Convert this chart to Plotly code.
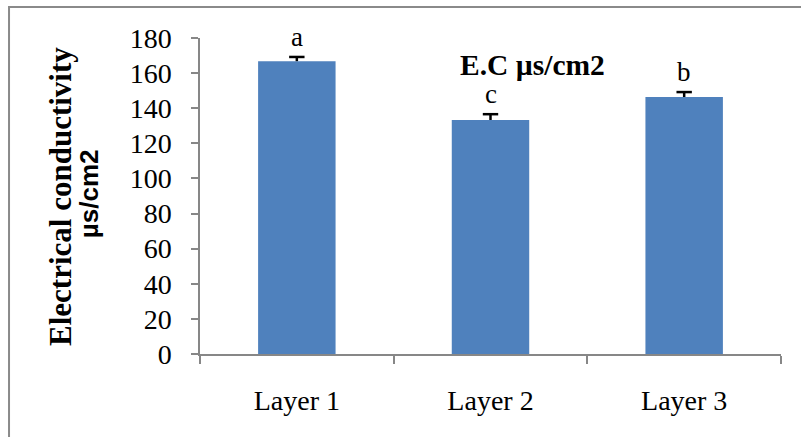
import plotly.graph_objects as go

# Electrical conductivity by soil layer
layers = ["Layer 1", "Layer 2", "Layer 3"]
ec_means = [166.8, 133.3, 146.4]
ec_errors = [2.4, 3.3, 2.8]
group_letters = ["a", "c", "b"]
y_ticks = [0, 20, 40, 60, 80, 100, 120, 140, 160, 180]

SERIF = "Liberation Serif, Times New Roman, serif"
SANS = "Liberation Sans, Arial, sans-serif"
AXIS_GRAY = "#878787"

fig = go.Figure(
    go.Bar(
        x=layers,
        y=ec_means,
        marker=dict(color="#4F81BD", line=dict(width=0)),
        width=0.4,
    )
)

# Plus-only error bars: stem from the bar top up to mean + error, capped
err_tops = [m + e for m, e in zip(ec_means, ec_errors)]
stem_x, stem_y = [], []
for name, mean, top in zip(layers, ec_means, err_tops):
    stem_x += [name, name, None]
    stem_y += [mean, top, None]
fig.add_trace(go.Scatter(
    x=stem_x, y=stem_y, mode="lines",
    line=dict(color="black", width=2.5), hoverinfo="skip",
))
fig.add_trace(go.Scatter(
    x=layers, y=err_tops, mode="markers",
    marker=dict(symbol="line-ew", size=11, line=dict(color="black", width=2.5)),
    hoverinfo="skip",
))

# Significance letters above each error bar
for name, top, letter in zip(layers, err_tops, group_letters):
    fig.add_annotation(
        x=name, y=top, text=letter, showarrow=False,
        yanchor="middle", yshift=20,
        font=dict(family=SERIF, size=27, color="black"),
    )

# Chart title inside plot area
fig.add_annotation(
    xref="paper", yref="paper", x=0.573, y=0.915,
    text="<b>E.C µs/cm2</b>", showarrow=False,
    xanchor="center", yanchor="middle",
    font=dict(family=SERIF, size=29.5, color="black"),
)

# Two-line y axis title
fig.add_annotation(
    xref="paper", yref="paper", x=-0.2410, y=0.50,
    text="<b>Electrical conductivity</b>",
    showarrow=False, textangle=-90,
    xanchor="center", yanchor="middle",
    font=dict(family=SERIF, size=31, color="black"),
)
fig.add_annotation(
    xref="paper", yref="paper", x=-0.1911, y=0.509,
    text="<b>µs/cm2</b>",
    showarrow=False, textangle=-90,
    xanchor="center", yanchor="middle",
    font=dict(family=SANS, size=26, color="black"),
)

# Outer chart-area frame
fig.add_shape(
    type="rect", xref="paper", yref="paper",
    x0=-0.3287, y0=-1.0, x1=2.0, y1=1.098,
    line=dict(color="#8a8a8a", width=2), fillcolor="rgba(0,0,0,0)",
    layer="below",
)

fig.update_layout(
    width=801, height=437,
    margin=dict(l=200, r=20, t=38, b=83),
    paper_bgcolor="white", plot_bgcolor="white",
    showlegend=False,
    bargap=0.6,
    font=dict(family=SERIF, color="black"),
)

fig.update_xaxes(
    showline=True, linecolor=AXIS_GRAY, linewidth=1.5,
    ticks="outside", tickson="boundaries", ticklen=8,
    tickcolor=AXIS_GRAY, tickwidth=1.5,
    tickfont=dict(family=SERIF, size=28, color="black"),
    ticklabelstandoff=21,
    showgrid=False, zeroline=False,
)

fig.update_yaxes(
    range=[0, 180], tickvals=y_ticks,
    showline=True, linecolor=AXIS_GRAY, linewidth=1.5,
    ticks="outside", ticklen=7, tickcolor=AXIS_GRAY, tickwidth=1.5,
    tickfont=dict(family=SERIF, size=28, color="black"),
    ticklabelstandoff=14,
    showgrid=False, zeroline=False,
)

fig.write_html("out.html")
